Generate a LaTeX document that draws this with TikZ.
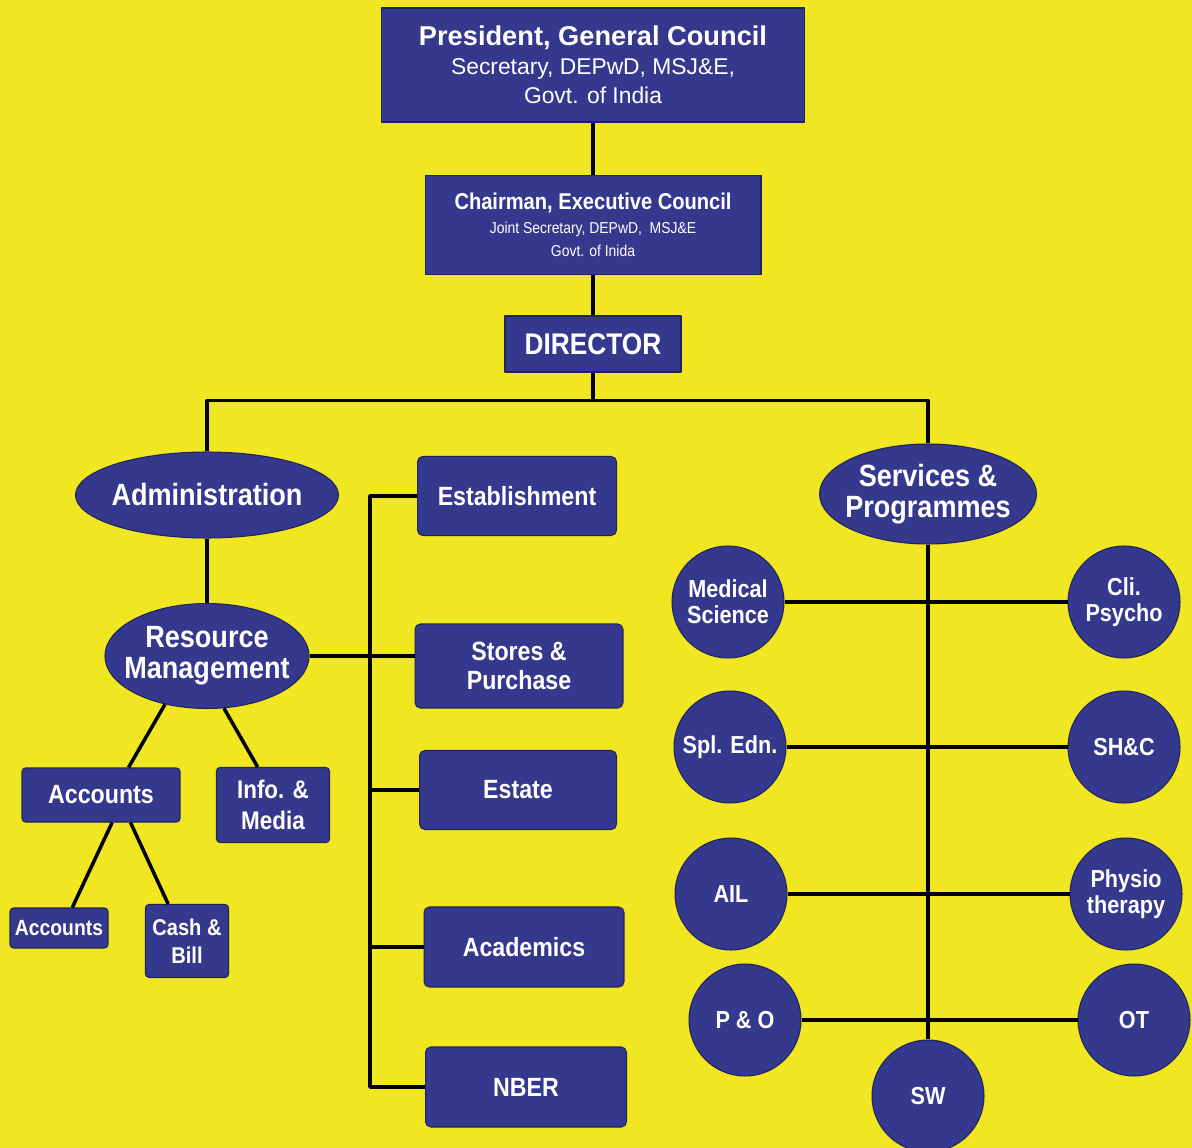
\documentclass[tikz,border=0pt]{standalone}
\usepackage{fontspec}
\setmainfont{Liberation Sans}
\newfontfamily\narrowsans{Liberation Sans}[FakeStretch=0.88]
\usetikzlibrary{shapes.geometric}
\definecolor{chartyellow}{RGB}{240,230,34}
\definecolor{chartblue}{RGB}{52,57,142}
\definecolor{chartedge}{RGB}{33,36,92}
\tikzset{
  unit/.style={fill=chartblue, draw=chartedge, line width=0.6pt, text=white, align=center, inner sep=0pt},
  topbox/.style={unit, rectangle},
  secbox/.style={unit, rectangle, rounded corners=3pt, font=\narrowsans\bfseries\fontsize{15}{16.5}\selectfont},
  wing/.style={unit, ellipse, inner xsep=-6pt, font=\narrowsans\bfseries\fontsize{17.5}{17.5}\selectfont},
  unitdisc/.style={unit, circle, minimum size=2.24cm, font=\narrowsans\bfseries\fontsize{14}{15}\selectfont},
  link/.style={line width=2pt, black}
}
\begin{document}
\begin{tikzpicture}[x=0.02cm, y=-0.02cm, line join=round]
\fill[chartyellow] (0,0) rectangle (1192,1148);
\useasboundingbox (0,0) rectangle (1192,1148);

% councils and director
\node[topbox, minimum width=8.48cm, minimum height=2.28cm, font=\fontsize{13}{16.5}\selectfont] (pres) at (593,65)
  {{\bfseries\fontsize{15.5}{16.5}\selectfont President, General Council}\\Secretary, DEPwD, MSJ\&E,\\Govt. of India};
\node[topbox, minimum width=6.72cm, minimum height=1.98cm, font=\narrowsans\fontsize{9}{13.5}\selectfont] (chair) at (593,225)
  {{\bfseries\fontsize{13}{13.5}\selectfont Chairman, Executive Council}\\Joint Secretary, DEPwD,\ \ MSJ\&E\\Govt. of Inida};
\node[topbox, minimum width=3.52cm, minimum height=1.12cm, font=\narrowsans\bfseries\fontsize{17}{18}\selectfont] (dir) at (593,344) {DIRECTOR};

% two wings
\node[wing, minimum width=5.26cm, minimum height=1.72cm] (admin) at (207,495) {Administration};
\node[wing, minimum width=4.34cm, minimum height=2.0cm] (serv) at (928,494) {Services \&\\Programmes};
\node[wing, minimum width=4.0cm, minimum height=2.1cm] (res) at (207,656) {Resource\\Management};

% sections
\node[secbox, minimum width=3.98cm, minimum height=1.58cm] (est) at (517,496) {Establishment};
\node[secbox, minimum width=4.16cm, minimum height=1.68cm] (stores) at (519,666) {Stores \&\\Purchase};
\node[secbox, minimum width=3.94cm, minimum height=1.58cm] (estate) at (518,790) {Estate};
\node[secbox, minimum width=4.0cm, minimum height=1.6cm] (acad) at (524,947) {Academics};
\node[secbox, minimum width=4.02cm, minimum height=1.6cm] (nber) at (526,1087) {NBER};

\node[secbox, rounded corners=2pt, minimum width=3.16cm, minimum height=1.08cm] (acc) at (101,795) {Accounts};
\node[secbox, rounded corners=2pt, minimum width=2.26cm, minimum height=1.5cm, font=\narrowsans\bfseries\fontsize{14.5}{18}\selectfont] (info) at (273,805) {Info. \&\\Media};
\node[secbox, rounded corners=2pt, minimum width=1.96cm, minimum height=0.8cm, font=\narrowsans\bfseries\fontsize{12.5}{14}\selectfont] (subacc) at (59,928) {Accounts};
\node[secbox, rounded corners=2pt, minimum width=1.66cm, minimum height=1.46cm, font=\narrowsans\bfseries\fontsize{13}{16}\selectfont] (cash) at (187,941) {Cash \&\\Bill};

% services
\node[unitdisc] (med) at (728,602) {Medical\\Science};
\node[unitdisc] (cli) at (1124,602) {Cli.\\Psycho};
\node[unitdisc] (spl) at (730,747) {Spl. Edn.};
\node[unitdisc] (shc) at (1124,747) {SH\&C};
\node[unitdisc] (ail) at (731,894) {AIL};
\node[unitdisc] (phy) at (1126,894) {Physio\\therapy};
\node[unitdisc] (po) at (745,1020) {P \& O};
\node[unitdisc] (ot) at (1134,1020) {OT};
\node[unitdisc] (sw) at (928,1096) {SW};

% connectors
\draw[link] (pres) -- (chair) -- (dir);
\draw[link] (dir.south) -- ++(0,28) coordinate (split);
\draw[link] (admin.north) |- (split) -| (serv.north);
\draw[link] (admin) -- (res);
\draw[link] (res.229) -- (acc.45);
\draw[link] (res.288) -- (info.112);
\draw[link] (acc.292) -- (subacc.57);
\draw[link] (acc.317) -- (cash.117);

\coordinate (bus) at (370,0);
\draw[link] (est.west) -- (est.west -| bus) -- (nber.west -| bus) -- (nber.west);
\foreach \sec in {estate,acad}
  \draw[link] (\sec.west) -- (\sec.west -| bus);
\draw[link] (res.east) -- (res.east -| stores.west);

\draw[link] (serv) -- (sw);
\draw[link] (med) -- (cli);
\draw[link] (spl) -- (shc);
\draw[link] (ail) -- (phy);
\draw[link] (po) -- (ot);
\end{tikzpicture}
\end{document}
